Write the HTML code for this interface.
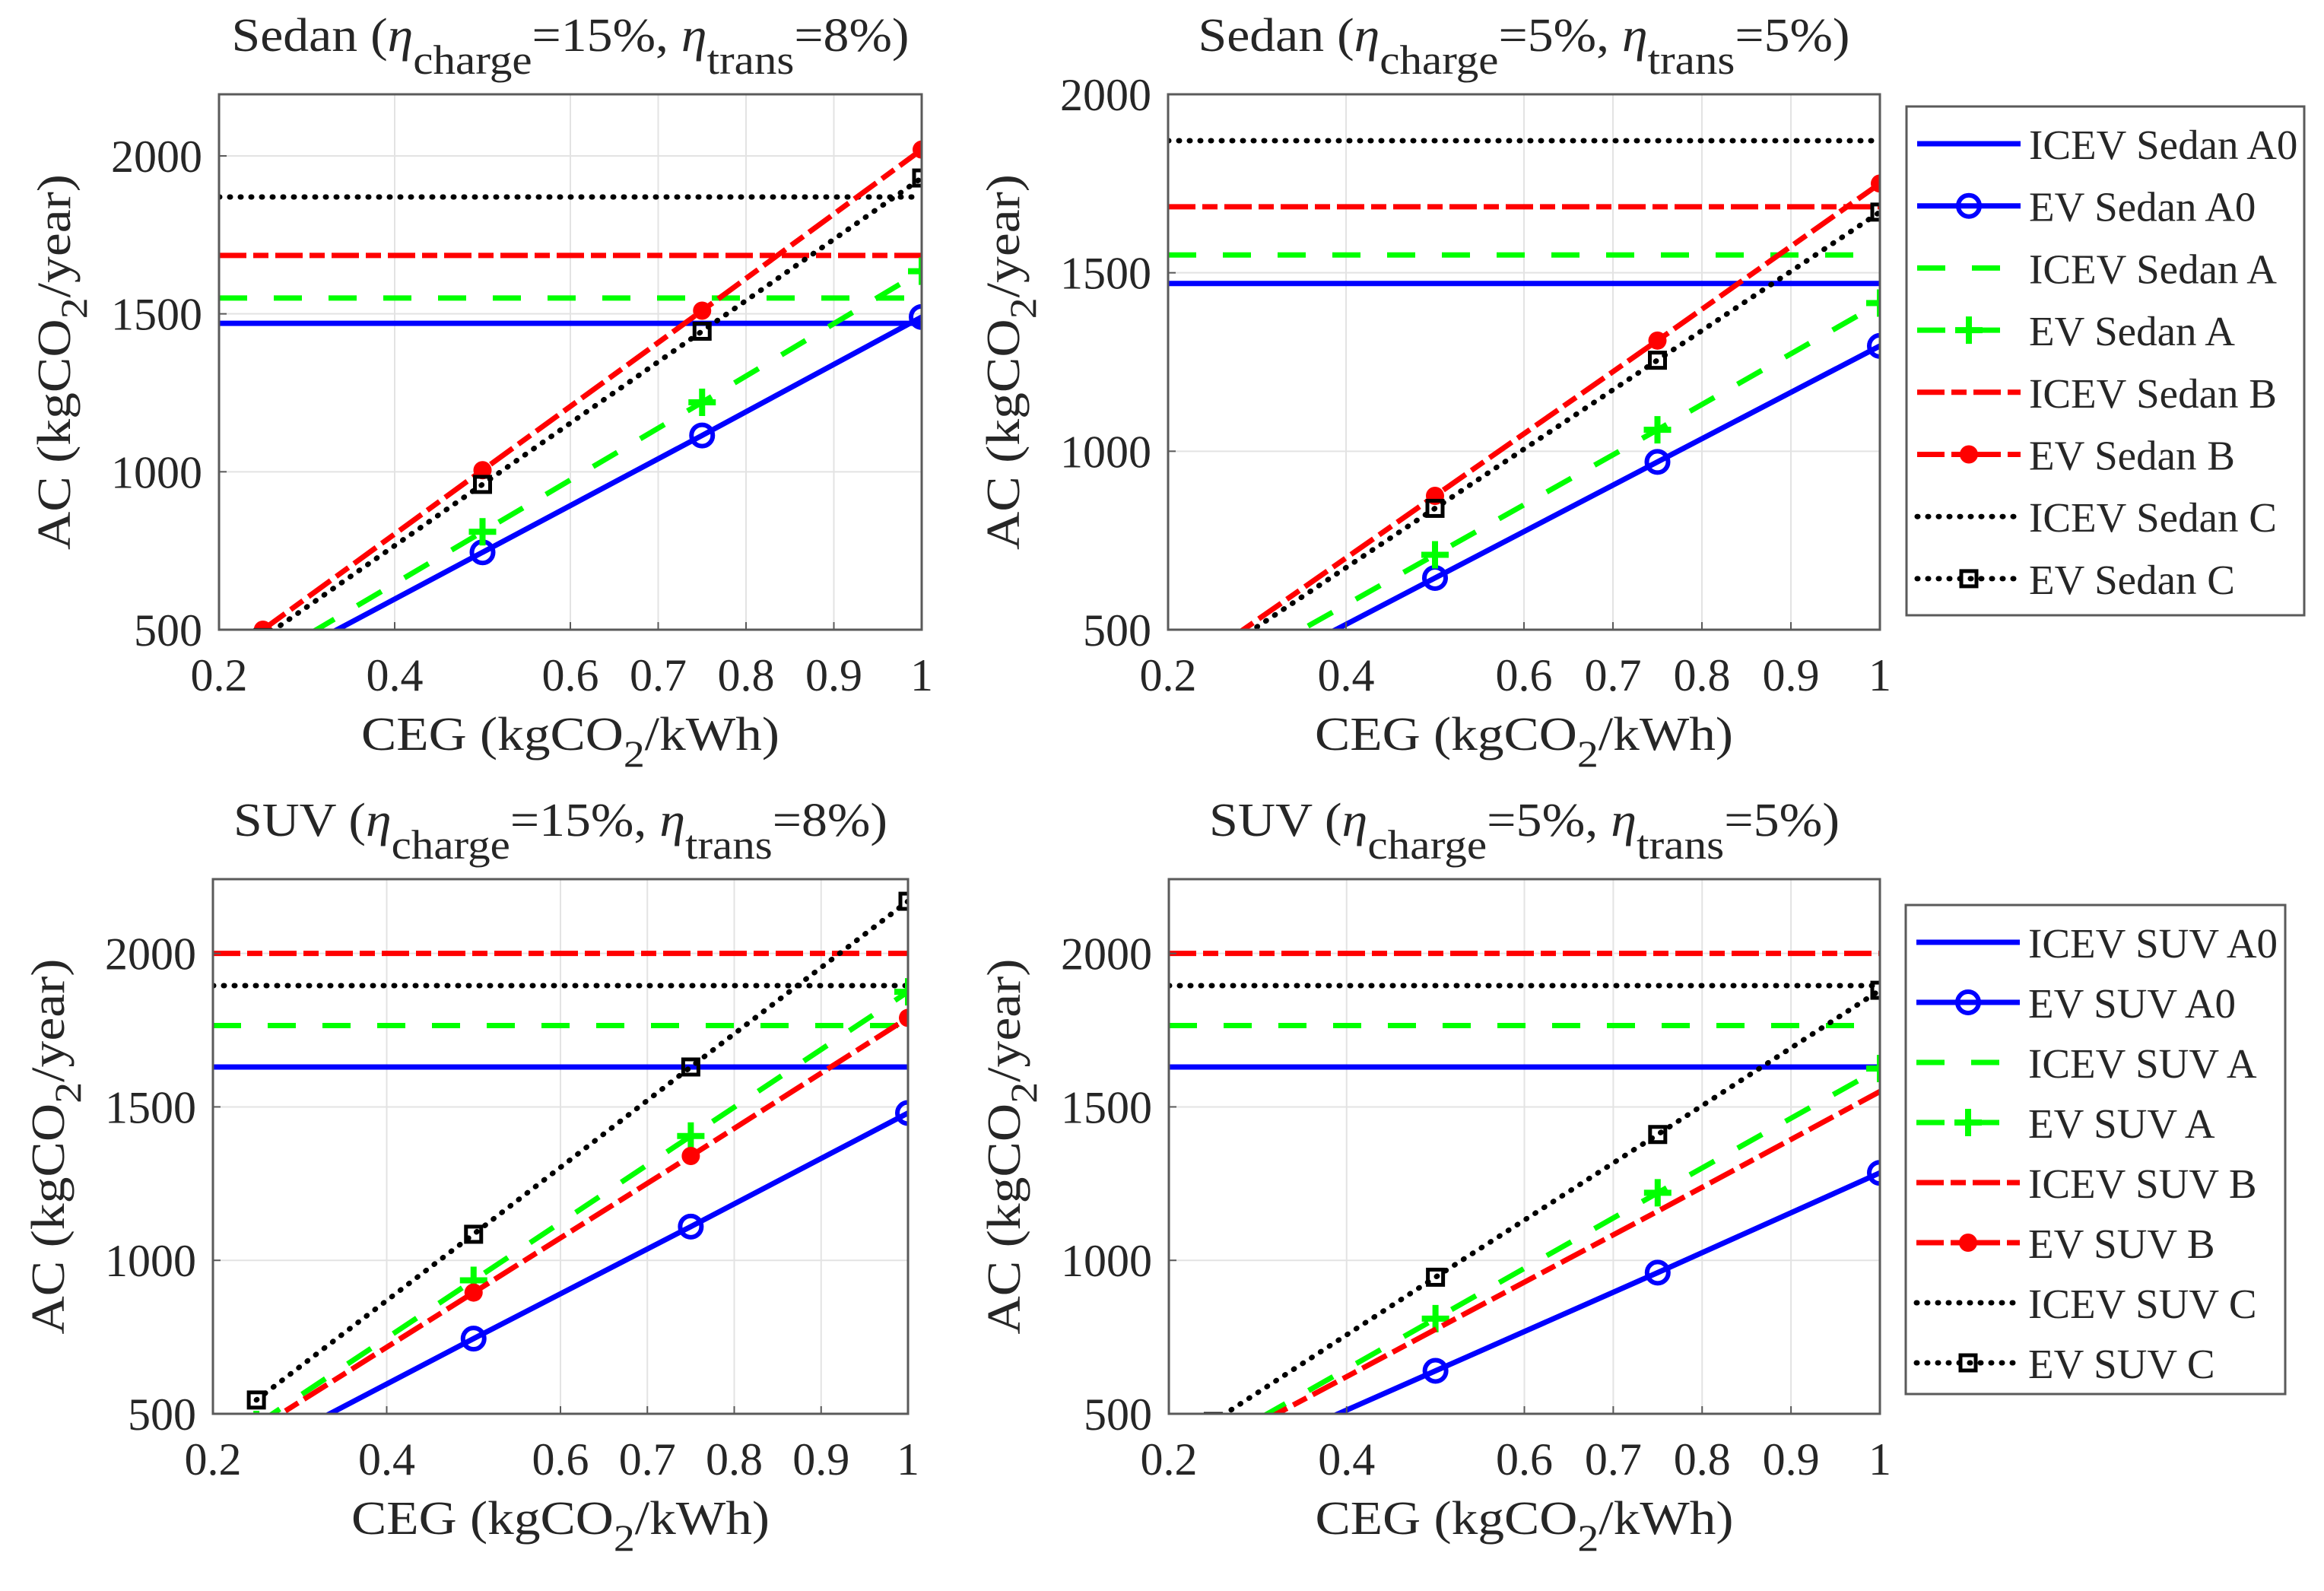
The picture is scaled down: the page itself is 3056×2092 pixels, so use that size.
<!DOCTYPE html>
<html><head><meta charset="utf-8"><style>
html,body{margin:0;padding:0;background:#fff;}
svg{display:block;font-family:"Liberation Serif",serif;}
</style></head><body>
<svg id="chart" width="3056" height="2092" viewBox="0 0 3056 2092" xmlns="http://www.w3.org/2000/svg"></svg>
<script>
const xPoints = [0.25, 0.5, 0.75, 1];
const xTicks = [0.2, 0.4, 0.6, 0.7, 0.8, 0.9, 1];
const xTickLabels = ["0.2", "0.4", "0.6", "0.7", "0.8", "0.9", "1"];
const yTicks = [500, 1000, 1500, 2000];
const yTickLabels = ["500", "1000", "1500", "2000"];
const classes = ["A0", "A", "B", "C"];

// Sedan, 15%/8%
const p1Icev = [1470, 1550, 1685, 1870];
const p1EvA0 = [375, 745, 1115, 1490];
const p1EvA = [400, 810, 1220, 1635];
const p1EvB = [500, 1005, 1510, 2020];
const p1EvC = [475, 960, 1445, 1930];
// Sedan, 5%/5%
const p2Icev = [1470, 1550, 1685, 1870];
const p2EvA0 = [320, 645, 970, 1295];
const p2EvA = [360, 710, 1060, 1415];
const p2EvB = [440, 875, 1310, 1750];
const p2EvC = [425, 840, 1255, 1670];
// SUV, 15%/8%
const p3Icev = [1630, 1765, 2000, 1895];
const p3EvA0 = [375, 745, 1110, 1480];
const p3EvA = [465, 935, 1405, 1875];
const p3EvB = [450, 895, 1340, 1790];
const p3EvC = [545, 1085, 1630, 2170];
// SUV, 5%/5%
const p4Icev = [1630, 1765, 2000, 1895];
const p4EvA0 = [320, 640, 960, 1285];
const p4EvA = [400, 810, 1220, 1625];
const p4EvB = [390, 775, 1160, 1550];
const p4EvC = [475, 945, 1410, 1880];

const NS = "http://www.w3.org/2000/svg";
const svg = document.getElementById("chart");
function mk(tag, attrs, parent) {
  const e = document.createElementNS(NS, tag);
  for (const k in attrs) e.setAttribute(k, attrs[k]);
  (parent || svg).appendChild(e);
  return e;
}
const styles = [
  {color: "#0000ff", dash: "", marker: "circle"},
  {color: "#00ff00", dash: "37 35", marker: "plus"},
  {color: "#ff0000", dash: "36 9 20 9", marker: "dot"},
  {color: "#000000", dash: "1 13", marker: "square", cap: "round"}
];
function marker(g, type, cx, cy, color) {
  let m;
  if (type === "circle") m = mk("circle", {cx: cx, cy: cy, r: 14, fill: "none", stroke: color, "stroke-width": 6}, g);
  else if (type === "dot") m = mk("circle", {cx: cx, cy: cy, r: 12, fill: color}, g);
  else if (type === "square") m = mk("rect", {x: cx - 10, y: cy - 10, width: 20, height: 20, fill: "none", stroke: color, "stroke-width": 5}, g);
  else m = mk("path", {d: `M${cx-18},${cy}H${cx+18}M${cx},${cy-18}V${cy+18}`, stroke: color, "stroke-width": 8, fill: "none"}, g);
  
  
}
function title(g, cx, y, veh, c1, c2, len) {
  const t = mk("text", {x: cx, y: y, "text-anchor": "middle", "font-size": 62, fill: "#262626", textLength: len, lengthAdjust: "spacingAndGlyphs"}, g);
  
  
  t.innerHTML = `${veh} (<tspan font-style="italic">η</tspan><tspan dy="30" font-size="54">charge</tspan><tspan dy="-30">=${c1}, </tspan><tspan font-style="italic">η</tspan><tspan dy="30" font-size="54">trans</tspan><tspan dy="-30">=${c2})</tspan>`;
}
function panel(cfg) {
  const g = mk("g", {});
  
  
  const {L, R, T, B, ymax} = cfg;
  const sx = v => L + (v - 0.2) / 0.8 * (R - L);
  const sy = v => B - (v - 500) / (ymax - 500) * (B - T);
  const cid = "clip-" + cfg.name;
  const cp = mk("clipPath", {id: cid}, g);
  mk("rect", {x: L, y: T, width: R - L, height: B - T}, cp);
  // grid
  xTicks.forEach(v => {
    const l = mk("line", {x1: sx(v), x2: sx(v), y1: T, y2: B, stroke: "#e3e3e3", "stroke-width": 2}, g);
    
    
  });
  yTicks.forEach(v => {
    const l = mk("line", {x1: L, x2: R, y1: sy(v), y2: sy(v), stroke: "#e3e3e3", "stroke-width": 2}, g);
    
    
  });
  // ICEV horizontal lines
  const dg = mk("g", {"clip-path": `url(#${cid})`}, g);
  cfg.icev.forEach((v, i) => {
    const s = styles[i];
    const l = mk("line", {x1: L, x2: R, y1: sy(v), y2: sy(v), stroke: s.color, "stroke-width": 7, "stroke-dasharray": s.dash, "stroke-linecap": s.cap || "butt"}, dg);
    
    
  });
  cfg.ev.forEach((arr, i) => {
    const s = styles[i];
    const pts = xPoints.map((x, j) => sx(x) + "," + sy(arr[j])).join(" ");
    const l = mk("polyline", {points: pts, fill: "none", stroke: s.color, "stroke-width": 7, "stroke-dasharray": s.dash, "stroke-linecap": s.cap || "butt"}, dg);
    
    
    if (!(cfg.noMarker && cfg.noMarker === i)) xPoints.forEach((x, j) => marker(dg, s.marker, sx(x), sy(arr[j]), s.color));
  });
  // box
  const bx = mk("rect", {x: L, y: T, width: R - L, height: B - T, fill: "none", stroke: "#5a5a5a", "stroke-width": 3}, g);
  
  
  xTicks.forEach((v, i) => {
    mk("line", {x1: sx(v), x2: sx(v), y1: B, y2: B - 10, stroke: "#5a5a5a", "stroke-width": 2}, g);
    const t = mk("text", {x: sx(v), y: B + 80, "text-anchor": "middle", "font-size": 60, fill: "#262626"}, g);
    
    
    t.textContent = xTickLabels[i];
  });
  yTicks.forEach((v, i) => {
    mk("line", {x1: L, x2: L + 10, y1: sy(v), y2: sy(v), stroke: "#5a5a5a", "stroke-width": 2}, g);
    const t = mk("text", {x: L - 22, y: sy(v) + 21, "text-anchor": "end", "font-size": 60, fill: "#262626"}, g);
    
    
    t.textContent = yTickLabels[i];
  });
  const cx = (L + R) / 2;
  const xl = mk("text", {x: cx, y: B + 158, "text-anchor": "middle", "font-size": 62, fill: "#262626", textLength: 550, lengthAdjust: "spacingAndGlyphs"}, g);
  
  
  xl.innerHTML = 'CEG (kgCO<tspan dy="22" font-size="50">2</tspan><tspan dy="-22">/kWh)</tspan>';
  const cy = (T + B) / 2;
  const yl = mk("text", {x: 0, y: 0, "text-anchor": "middle", "font-size": 62, fill: "#262626", textLength: 494, lengthAdjust: "spacingAndGlyphs", transform: `translate(${L - 196},${cy}) rotate(-90)`}, g);
  
  
  yl.innerHTML = 'AC (kgCO<tspan dy="22" font-size="50">2</tspan><tspan dy="-22">/year)</tspan>';
  title(g, cx, T - 57, cfg.title, cfg.c1, cfg.c2, cfg.tlen);
}
function legend(name, x, y, w, h, labels, step) {
  const g = mk("g", {});
  
  
  const r = mk("rect", {x: x, y: y, width: w, height: h, fill: "#fff", stroke: "#5a5a5a", "stroke-width": 3}, g);
  
  
  labels.forEach((lab, k) => {
    const s = styles[Math.floor(k / 2)];
    const ly = y + 49 + k * step;
    const e = mk("g", {}, g);
    
    
    mk("line", {x1: x + 14, x2: x + 150, y1: ly, y2: ly, stroke: s.color, "stroke-width": 7, "stroke-dasharray": s.dash, "stroke-linecap": s.cap || "butt"}, e);
    if (k % 2 === 1) marker(e, s.marker, x + 82, ly, s.color);
    const t = mk("text", {x: x + 161, y: ly + 20, "font-size": 55, fill: "#262626"}, e);
    
    
    t.textContent = lab;
  });
}
panel({name: "sedan-15-8-panel", veh: "sedan", L: 288, R: 1212, T: 124, B: 828, ymax: 2195, icev: p1Icev, ev: [p1EvA0, p1EvA, p1EvB, p1EvC], title: "Sedan", c1: "15%", c2: "8%", tlen: 891});
panel({name: "sedan-5-5-panel", veh: "sedan", L: 1536, R: 2472, T: 124, B: 828, ymax: 2000, icev: p2Icev, ev: [p2EvA0, p2EvA, p2EvB, p2EvC], title: "Sedan", c1: "5%", c2: "5%", tlen: 857});
panel({name: "suv-15-8-panel", veh: "suv", L: 280, R: 1194, T: 1156, B: 1859, ymax: 2242, icev: p3Icev, ev: [p3EvA0, p3EvA, p3EvB, p3EvC], title: "SUV", c1: "15%", c2: "8%", tlen: 860});
panel({name: "suv-5-5-panel", veh: "suv", L: 1537, R: 2472, T: 1156, B: 1859, ymax: 2242, icev: p4Icev, ev: [p4EvA0, p4EvA, p4EvB, p4EvC], title: "SUV", c1: "5%", c2: "5%", tlen: 829, noMarker: 2});
legend("sedan-legend", 2507, 140, 523, 669, ["ICEV Sedan A0", "EV Sedan A0", "ICEV Sedan A", "EV Sedan A", "ICEV Sedan B", "EV Sedan B", "ICEV Sedan C", "EV Sedan C"], 81.7);
legend("suv-legend", 2506, 1190, 499, 643, ["ICEV SUV A0", "EV SUV A0", "ICEV SUV A", "EV SUV A", "ICEV SUV B", "EV SUV B", "ICEV SUV C", "EV SUV C"], 79);
</script>
</body></html>
